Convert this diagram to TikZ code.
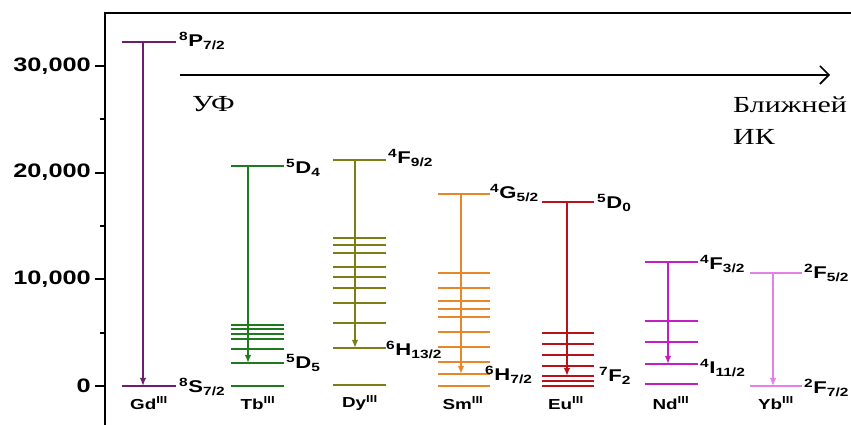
\documentclass[tikz,border=0pt]{standalone}
\usepackage{fontspec}
\setmainfont{Liberation Serif}
\newfontfamily\arialf{Liberation Sans}
\usepackage{graphicx}
\usetikzlibrary{arrows.meta}

\definecolor{gdcol}{HTML}{6E1E6E}
\definecolor{tbcol}{HTML}{1F7A1F}
\definecolor{dycol}{HTML}{7D7D14}
\definecolor{smcol}{HTML}{E8862A}
\definecolor{eucol}{HTML}{B5121B}
\definecolor{ndcol}{HTML}{C21FC2}
\definecolor{ybcol}{HTML}{E67FE6}

\newcommand{\widetxt}[1]{\scalebox{1.3}[1]{#1}}
\newcommand{\term}[3]{\widetxt{\textsuperscript{#1}#2\textsubscript{#3}}}
\newcommand{\ion}[1]{\widetxt{#1\textsuperscript{III}}}

\begin{document}
\begin{tikzpicture}[x=1pt,y=1pt,
  lvline/.style={line width=2.1pt},
  emit/.style={line width=1.9pt,-{Latex[length=8pt,width=6.5pt]}},
  termlab/.style={anchor=west,inner sep=0pt,font=\arialf\bfseries\fontsize{17}{20}\selectfont},
  ionlab/.style={inner sep=0pt,font=\arialf\bfseries\fontsize{14.5}{16}\selectfont},
  axtick/.style={line width=2pt},
  ticklab/.style={anchor=east,inner sep=0pt,font=\arialf\bfseries\fontsize{19.5}{22}\selectfont},
  bandlab/.style={anchor=west,inner sep=0pt,font=\fontsize{23}{26}\selectfont}]
\useasboundingbox (0,0) rectangle (851,425);

% axis and frame
\coordinate (ax0) at (105,0);
\coordinate (ax1) at (105,412);
\coordinate (ax2) at (851,412);
\path[draw,line width=2.3pt] (ax0) -- (ax1) -- (ax2);

\path[draw,axtick] (95,39) -- (105,39);
\path[draw,axtick] (95,145.7) -- (105,145.7);
\path[draw,axtick] (95,252.4) -- (105,252.4);
\path[draw,axtick] (95,359) -- (105,359);
\path[draw,axtick] (100,92.3) -- (105,92.3);
\path[draw,axtick] (100,199) -- (105,199);
\path[draw,axtick] (100,305.7) -- (105,305.7);

\node[ticklab] (t0) at (91,39) {\widetxt{0}};
\node[ticklab] (t10) at (91,145.7) {\widetxt{10,000}};
\node[ticklab] (t20) at (91,252.4) {\widetxt{20,000}};
\node[ticklab] (t30) at (91,359) {\widetxt{30,000}};

% UV -> NIR
\coordinate (uvEnd) at (180,350);
\coordinate (irEnd) at (830,350);
\path[draw,line width=1.6pt,-{Straight Barb[length=9pt,width=18pt,line width=1.6pt]}] (uvEnd) -- (irEnd);
\node[bandlab] (uv) at (192,321) {\widetxt{УФ}};
\node[bandlab] (nir1) at (733,320) {\widetxt{Ближней}};
\node[bandlab] (nir2) at (733,288) {\widetxt{ИК}};

% Gd
\path[draw,lvline,gdcol] (122,383) -- (176,383);
\path[draw,lvline,gdcol] (122,39) -- (176,39);
\coordinate (gdP) at (143,383);
\coordinate (gdS) at (143,39);
\path[draw,emit,gdcol] (gdP) -- (gdS);
\node[termlab] (gdPlab) at (179,384) {\term{8}{P}{7/2}};
\node[termlab] (gdSlab) at (179,38) {\term{8}{S}{7/2}};
\node[ionlab] (gd) at (149,22) {\ion{Gd}};

% Tb
\path[draw,lvline,tbcol] (231,259) -- (284,259);
\path[draw,lvline,tbcol] (231,100) -- (284,100);
\path[draw,lvline,tbcol] (231,96) -- (284,96);
\path[draw,lvline,tbcol] (231,91) -- (284,91);
\path[draw,lvline,tbcol] (231,86) -- (284,86);
\path[draw,lvline,tbcol] (231,76) -- (284,76);
\path[draw,lvline,tbcol] (231,62) -- (284,62);
\path[draw,lvline,tbcol] (231,39) -- (284,39);
\coordinate (tbD) at (248,259);
\coordinate (tbF) at (248,62);
\path[draw,emit,tbcol] (tbD) -- (tbF);
\node[termlab] (tbDlab) at (286,257) {\term{5}{D}{4}};
\node[termlab] (tbFlab) at (286,62) {\term{5}{D}{5}};
\node[ionlab] (tb) at (258,22) {\ion{Tb}};

% Dy
\path[draw,lvline,dycol] (333,265) -- (386,265);
\path[draw,lvline,dycol] (333,187) -- (386,187);
\path[draw,lvline,dycol] (333,180) -- (386,180);
\path[draw,lvline,dycol] (333,172) -- (386,172);
\path[draw,lvline,dycol] (333,158) -- (386,158);
\path[draw,lvline,dycol] (333,148) -- (386,148);
\path[draw,lvline,dycol] (333,137) -- (386,137);
\path[draw,lvline,dycol] (333,122) -- (386,122);
\path[draw,lvline,dycol] (333,102) -- (386,102);
\path[draw,lvline,dycol] (333,77) -- (386,77);
\path[draw,lvline,dycol] (333,40) -- (386,40);
\coordinate (dyF) at (355,265);
\coordinate (dyH) at (355,77);
\path[draw,emit,dycol] (dyF) -- (dyH);
\node[termlab] (dyFlab) at (388,267) {\term{4}{F}{9/2}};
\node[termlab] (dyHlab) at (386,75) {\term{6}{H}{13/2}};
\node[ionlab] (dy) at (360,22) {\ion{Dy}};

% Sm
\path[draw,lvline,smcol] (438,231) -- (490,231);
\path[draw,lvline,smcol] (438,152) -- (490,152);
\path[draw,lvline,smcol] (438,137) -- (490,137);
\path[draw,lvline,smcol] (438,124) -- (490,124);
\path[draw,lvline,smcol] (438,116) -- (490,116);
\path[draw,lvline,smcol,line width=2.8pt] (438,108) -- (490,108);
\path[draw,lvline,smcol] (438,93) -- (490,93);
\path[draw,lvline,smcol] (438,78) -- (490,78);
\path[draw,lvline,smcol] (438,63) -- (490,63);
\path[draw,lvline,smcol] (438,51) -- (490,51);
\path[draw,lvline,smcol] (438,39) -- (490,39);
\coordinate (smG) at (461,231);
\coordinate (smH) at (461,51);
\path[draw,emit,smcol] (smG) -- (smH);
\node[termlab] (smGlab) at (490,232) {\term{4}{G}{5/2}};
\node[termlab] (smHlab) at (485,50) {\term{6}{H}{7/2}};
\node[ionlab] (sm) at (463,22) {\ion{Sm}};

% Eu
\path[draw,lvline,eucol] (542,223) -- (594,223);
\path[draw,lvline,eucol] (542,92) -- (594,92);
\path[draw,lvline,eucol] (542,81) -- (594,81);
\path[draw,lvline,eucol] (542,70) -- (594,70);
\path[draw,lvline,eucol] (542,59) -- (594,59);
\path[draw,lvline,eucol] (542,49) -- (594,49);
\path[draw,lvline,eucol] (542,44) -- (594,44);
\path[draw,lvline,eucol] (542,39) -- (594,39);
\coordinate (euD) at (567,223);
\coordinate (euF) at (567,49);
\path[draw,emit,eucol] (euD) -- (euF);
\node[termlab] (euDlab) at (597,222) {\term{5}{D}{0}};
\node[termlab] (euFlab) at (599,49) {\term{7}{F}{2}};
\node[ionlab] (eu) at (566,22) {\ion{Eu}};

% Nd
\path[draw,lvline,ndcol] (645,163) -- (698,163);
\path[draw,lvline,ndcol] (645,104) -- (698,104);
\path[draw,lvline,ndcol] (645,83) -- (698,83);
\path[draw,lvline,ndcol] (645,61) -- (698,61);
\path[draw,lvline,ndcol] (645,41) -- (698,41);
\coordinate (ndF) at (668,163);
\coordinate (ndI) at (668,61);
\path[draw,emit,ndcol] (ndF) -- (ndI);
\node[termlab] (ndFlab) at (700,161) {\term{4}{F}{3/2}};
\node[termlab] (ndIlab) at (700,57) {\term{4}{I}{11/2}};
\node[ionlab] (nd) at (671,22) {\ion{Nd}};

% Yb
\path[draw,lvline,ybcol] (750,152) -- (802,152);
\path[draw,lvline,ybcol] (750,39) -- (802,39);
\coordinate (ybU) at (773,152);
\coordinate (ybL) at (773,39);
\path[draw,emit,ybcol,line width=1.4pt] (ybU) -- (ybL);
\node[termlab] (ybUlab) at (804,152) {\term{2}{F}{5/2}};
\node[termlab] (ybLlab) at (804,37) {\term{2}{F}{7/2}};
\node[ionlab] (yb) at (776,22) {\ion{Yb}};

\end{tikzpicture}
\end{document}
